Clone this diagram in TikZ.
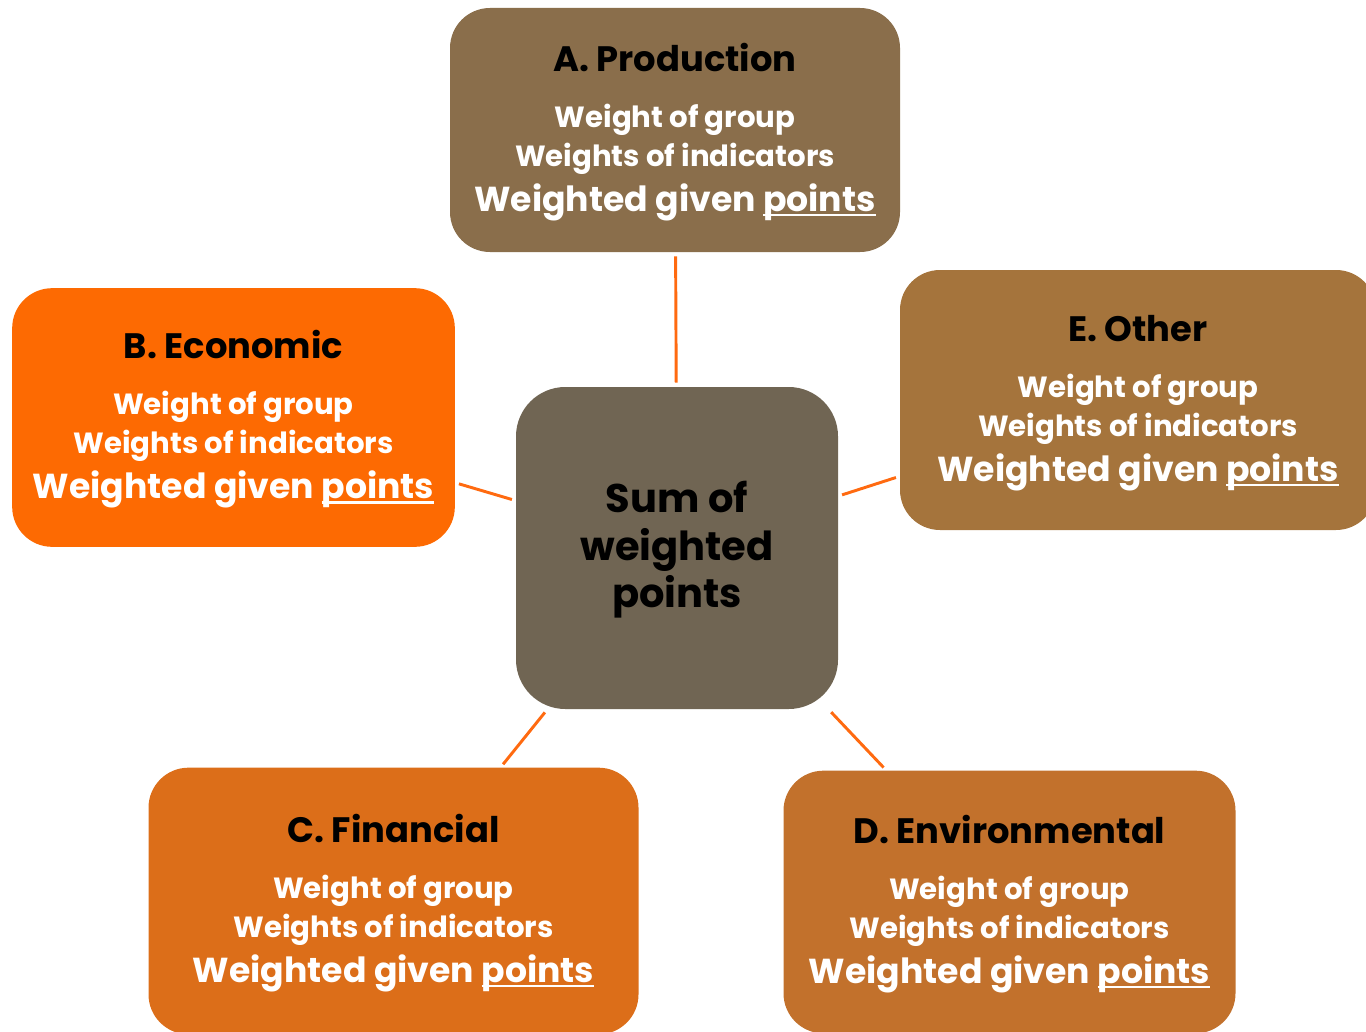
\documentclass[tikz,border=0pt]{standalone}
\usepackage{fontspec}
\setmainfont{Poppins}

\definecolor{prodbrown}{HTML}{8A6E4B}
\definecolor{econorange}{HTML}{FD6A02}
\definecolor{finorange}{HTML}{DC6E19}
\definecolor{envorange}{HTML}{C2712C}
\definecolor{otherbrown}{HTML}{A5743C}
\definecolor{sumgrey}{HTML}{706553}
\definecolor{linkorange}{HTML}{FF6A10}

\tikzstyle{group}=[rounded corners=30pt, align=center, inner sep=0pt, text=white,
                   font=\bfseries\fontsize{21.9pt}{29.25pt}\selectfont]
\tikzstyle{total}=[rounded corners=37pt, align=center, inner sep=0pt, fill=sumgrey,
                   minimum width=241.5pt, minimum height=241.5pt,
                   font=\bfseries\fontsize{30pt}{35.5pt}\selectfont]
\tikzstyle{link}=[draw=linkorange, line width=2.2pt, shorten >=3pt, shorten <=3pt]

\newcommand{\ulpts}[1]{\setbox0\hbox{#1}\rlap{\rule[-0.14em]{\wd0}{0.07em}}\box0}
\newcommand{\grptext}[1]{%
  \fontsize{26.5pt}{30pt}\selectfont\color{black}\rule{0pt}{24pt}#1\\[12.75pt]
  Weight of group\\
  Weights of indicators\\[4.5pt]
  \fontsize{26pt}{33pt}\selectfont Weighted given \ulpts{points}}

\begin{document}
\begin{tikzpicture}[x=0.75pt, y=-0.75pt]
			\useasboundingbox (0,0) rectangle (1366,1031);
			\clip (0,0) rectangle (1366,1031);
			%The centre node
			\node[total] (sum) at (677,548) {\rule{0pt}{26pt}Sum of\\weighted\\points};
			%The five groups
			\foreach \x/\y/\name/\col/\bw/\bh/\title in
				{675/130/A/prodbrown/337.5/183/A. Production,
				 233.5/417.5/B/econorange/332/194/B. Economic,
				 393.5/901/C/finorange/367.5/200/C. Financial,
				 1009.5/902/D/envorange/339/197/D. Environmental,
				 1138/400/E/otherbrown/357/195/E. Other}
			\node[group, fill=\col, minimum width=\bw pt, minimum height=\bh pt] (\name) at (\x,\y) {\grptext{\title}};
			%Connecting the groups to the sum
			\foreach \name in {A,B,C,D,E}
			\draw[link] (sum) -- (\name);
		\end{tikzpicture}
\end{document}
